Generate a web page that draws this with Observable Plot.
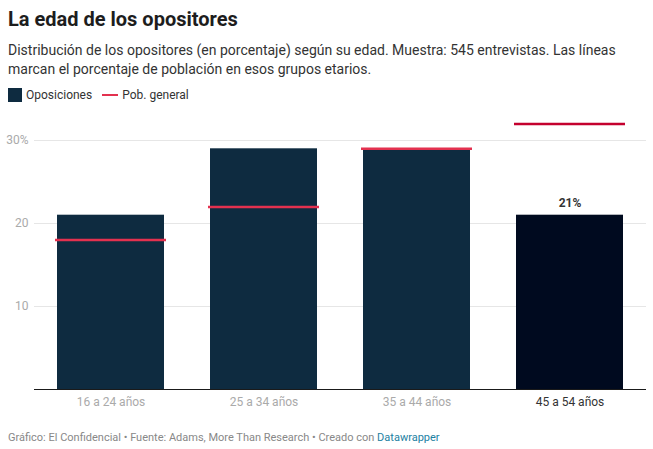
<!DOCTYPE html>
<html>
<head>
<meta charset="utf-8">
<script src="https://cdn.jsdelivr.net/npm/d3@7"></script>
<script src="https://cdn.jsdelivr.net/npm/@observablehq/plot@0.6"></script>
<style>
  body { margin: 0; padding: 0; font-family: Roboto, "Noto Sans", sans-serif; background: #fff; width: 653px; }
  #head { padding: 6px 8px 0 8px; }
  h1 { font-size: 20px; font-weight: 700; margin: 0; color: #1d1d1d; line-height: 26px; }
  .sub { font-size: 14px; color: #333; line-height: 19px; margin-top: 9px; }
  .legend { display: flex; align-items: center; font-size: 12px; color: #333; margin-top: 8px; height: 16px; }
  .sw { width: 14px; height: 14px; background: #0e2b40; display: inline-block; margin-right: 4px; }
  .ln { width: 16px; height: 2.5px; background: #e3314f; display: inline-block; margin: 0 4px 0 10px; }
  #foot { font-size: 11px; color: #888; padding: 16px 8px 0 8px; }
  #foot a { color: #1d81a2; text-decoration: none; }
  svg { display: block; }
</style>
</head>
<body>
<div id="head">
  <h1>La edad de los opositores</h1>
  <div class="sub">Distribución de los opositores (en porcentaje) según su edad. Muestra: 545 entrevistas. Las líneas marcan el porcentaje de población en esos grupos etarios.</div>
  <div class="legend"><span class="sw"></span>Oposiciones<span class="ln"></span>Pob. general</div>
</div>
<div id="chart"></div>
<div id="foot">Gráfico: El Confidencial • Fuente: Adams, More Than Research • Creado con <a>Datawrapper</a></div>
<script>
const groups = ["16 a 24 años", "25 a 34 años", "35 a 44 años", "45 a 54 años"];
const oposiciones = [21, 29, 29, 21];
const poblacion = [18, 22, 29, 32];
const highlighted = "45 a 54 años";

const data = groups.map((g, i) => ({group: g, op: oposiciones[i], pob: poblacion[i], hl: g === highlighted}));

const chart = Plot.plot({
  width: 653,
  height: 312,
  marginTop: 37,
  marginBottom: 26,
  marginLeft: 34,
  marginRight: 7,
  style: {fontFamily: "Roboto, 'Noto Sans', sans-serif", fontSize: "12px", background: "#fff"},
  x: {domain: groups, paddingInner: 0.3, paddingOuter: 0.15, label: null},
  y: {domain: [0, 30], label: null},
  marks: [
    Plot.gridY([10, 20, 30], {stroke: "#e6e6e6", strokeOpacity: 1}),
    Plot.axisY([10, 20, 30], {tickSize: 0, tickPadding: 6, fill: "#aaa", fontSize: 12,
      tickFormat: d => d === 30 ? "30%" : String(d), label: null}),
    Plot.barY(data, {x: "group", y: "op", fill: d => d.hl ? "#000a1f" : "#0e2b40"}),
    Plot.ruleY([0], {stroke: "#1a1a1a", strokeWidth: 1}),
    Plot.tickY(data, {x: "group", y: "pob", stroke: d => d.hl ? "#c4002e" : "#e3314f", strokeWidth: 2.5, insetLeft: -2, insetRight: -2}),
    Plot.text(data.filter(d => d.hl), {x: "group", y: "op", text: d => d.op + "%", dy: -12, fill: "#333", fontWeight: 700, fontSize: 12}),
    Plot.axisX({tickSize: 0, tickPadding: 8, fontSize: 12, label: null,
      fill: d => d === highlighted ? "#333" : "#aaa"})
  ]
});
document.getElementById("chart").appendChild(chart);
</script>
</body>
</html>
